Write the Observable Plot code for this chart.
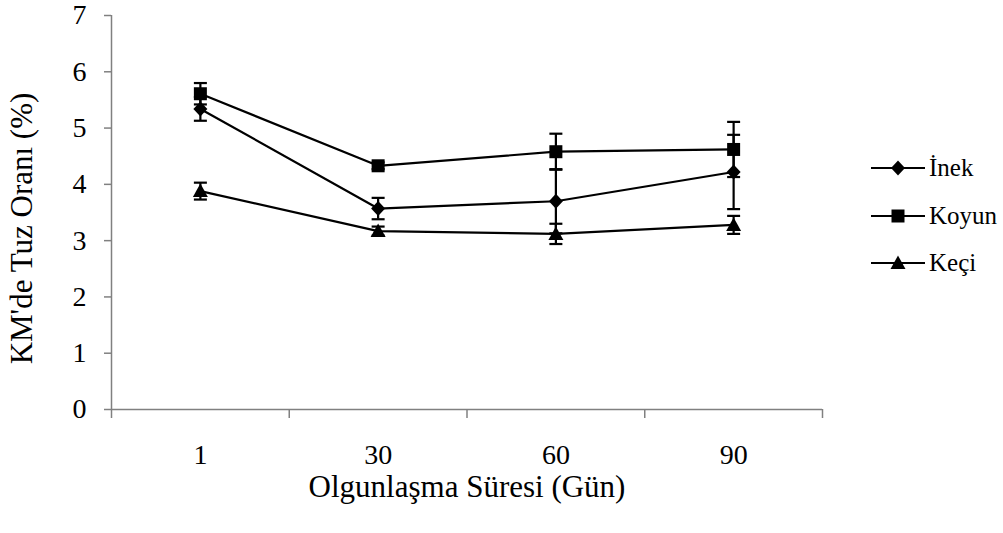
<!DOCTYPE html>
<html>
<head>
<meta charset="utf-8">
<script src="https://cdn.jsdelivr.net/npm/d3@7"></script>
<script src="https://cdn.jsdelivr.net/npm/@observablehq/plot@0.6"></script>
<style>
  html, body { margin: 0; padding: 0; background: #fff; }
  #wrap { position: relative; width: 1003px; height: 533px; font-family: "Liberation Serif", "Times New Roman", serif; }
  #legend { position: absolute; left: 871px; top: 150px; }
  .row { position: absolute; left: 0; display: flex; align-items: center; height: 30px; white-space: nowrap; font-size: 25px; color: #000; }
  .row svg { display: block; margin-right: 4px; }
</style>
</head>
<body>
<div id="wrap"><div id="legend"></div></div>
<script>
// ---- data ----
const days = ["1", "30", "60", "90"];
const seriesNames = ["İnek", "Koyun", "Keçi"];
const inek = [5.34, 3.57, 3.70, 4.22];
const inekErr = [0.21, 0.19, 0.57, 0.66];
const koyun = [5.61, 4.33, 4.58, 4.62];
const koyunErr = [0.19, 0.06, 0.32, 0.49];
const keci = [3.88, 3.17, 3.12, 3.28];
const keciErr = [0.15, 0.08, 0.18, 0.16];
const yTicks = [0, 1, 2, 3, 4, 5, 6, 7];
const xLabel = "Olgunlaşma Süresi (Gün)";
const yLabel = "KM'de Tuz Oranı (%)";

// ---- symbols ----
const diamond = {draw(c) { c.moveTo(0, -7.5); c.lineTo(7, 0); c.lineTo(0, 7.5); c.lineTo(-7, 0); c.closePath(); }};
const square = {draw(c) { c.rect(-6.5, -6.5, 13, 13); }};
const triangle = {draw(c) { c.moveTo(0, -7.5); c.lineTo(7.5, 6); c.lineTo(-7.5, 6); c.closePath(); }};
const cap = {draw(c) { c.moveTo(-6.5, 0); c.lineTo(6.5, 0); }};
const symbols = {"İnek": diamond, "Koyun": square, "Keçi": triangle};

const raw = {"İnek": [inek, inekErr], "Koyun": [koyun, koyunErr], "Keçi": [keci, keciErr]};
const rows = [];
for (const s of seriesNames) {
  const [v, e] = raw[s];
  days.forEach((d, i) => rows.push({series: s, day: d, pos: i + 0.5, v: v[i], lo: v[i] - e[i], hi: v[i] + e[i]}));
}

const gray = "#808080";
const chart = Plot.plot({
  width: 1003,
  height: 533,
  marginLeft: 111,
  marginRight: 181,
  marginTop: 15,
  marginBottom: 124,
  style: {fontFamily: "'Liberation Serif', 'Times New Roman', serif", fontSize: "28px", color: "#000", background: "#fff"},
  x: {type: "linear", domain: [0, days.length]},
  y: {domain: [0, 7]},
  marks: [
    Plot.axisY({ticks: yTicks, tickFormat: (d) => String(d), tickSize: 7, tickPadding: 18, stroke: gray, strokeWidth: 1.5, label: null}),
    Plot.axisX({ticks: d3.range(days.length + 1), tickFormat: () => "", tickSize: 9, stroke: gray, strokeWidth: 1.5, label: null}),
    Plot.axisX({ticks: days.map((d, i) => i + 0.5), tickFormat: (t) => days[Math.floor(t)], tickSize: 0, tickPadding: 35, label: null}),
    Plot.ruleX([0], {stroke: gray, strokeWidth: 1.5}),
    Plot.ruleY([0], {stroke: gray, strokeWidth: 1.5}),
    Plot.line(rows, {x: "pos", y: "v", z: "series", stroke: "#000", strokeWidth: 2.2}),
    Plot.ruleX(rows, {x: "pos", y1: "lo", y2: "hi", stroke: "#000", strokeWidth: 2.2}),
    Plot.dot(rows, {x: "pos", y: "hi", symbol: () => cap, stroke: "#000", strokeWidth: 2.2}),
    Plot.dot(rows, {x: "pos", y: "lo", symbol: () => cap, stroke: "#000", strokeWidth: 2.2}),
    Plot.dot(rows, {x: "pos", y: "v", symbol: (d) => symbols[d.series], fill: "#000", stroke: "none"}),
    Plot.text([xLabel], {frameAnchor: "bottom", lineAnchor: "middle", dy: 78, fontSize: 31, fill: "#000"}),
    Plot.text([yLabel], {frameAnchor: "left", textAnchor: "middle", lineAnchor: "middle", dx: -89, dy: 16, rotate: -90, fontSize: 31, fill: "#000"})
  ]
});
document.getElementById("wrap").prepend(chart);

// ---- legend ----
const legend = document.getElementById("legend");
const legendY = [168, 216, 263];
seriesNames.forEach((s, i) => {
  const row = document.createElement("div");
  row.className = "row";
  row.style.top = (legendY[i] - 150 - 15) + "px";
  const path = d3.path();
  symbols[s].draw(path);
  row.innerHTML = `<svg width="54" height="20" viewBox="0 0 54 20"><line x1="0" y1="10" x2="54" y2="10" stroke="#000" stroke-width="2.2"/><path transform="translate(27,10)" d="${path.toString()}" fill="#000"/></svg><span>${s}</span>`;
  legend.appendChild(row);
});
</script>
</body>
</html>
